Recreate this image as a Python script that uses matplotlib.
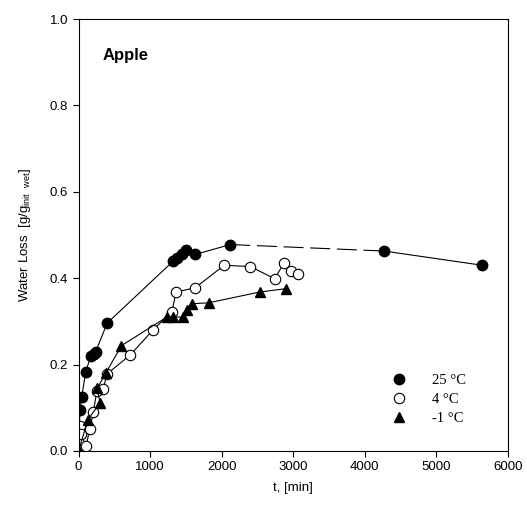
import matplotlib
matplotlib.use("Agg")
import matplotlib.pyplot as plt
import matplotlib.lines as mlines

# Data
t25 = [0, 20, 45, 100, 170, 210, 240, 400, 1325, 1380, 1440, 1500, 1630, 2120, 4265, 5640]
w25 = [0.0, 0.096, 0.125, 0.183, 0.219, 0.225, 0.230, 0.296, 0.440, 0.447, 0.455, 0.466, 0.455, 0.478, 0.463, 0.430]

t4 = [0, 20, 30, 105, 160, 207, 255, 347, 395, 720, 1046, 1303, 1364, 1630, 2035, 2400, 2740, 2874, 2968, 3060]
w4 = [0.003, 0.058, 0.040, 0.012, 0.052, 0.090, 0.138, 0.143, 0.178, 0.222, 0.281, 0.322, 0.368, 0.378, 0.430, 0.427, 0.399, 0.436, 0.416, 0.409]

tm1 = [0, 130, 300, 260, 380, 600, 1233, 1325, 1466, 1513, 1592, 1816, 2529, 2902]
wm1 = [0.0, 0.072, 0.112, 0.145, 0.180, 0.244, 0.310, 0.310, 0.310, 0.326, 0.341, 0.343, 0.368, 0.376]

labels = ["25 °C", "4 °C", "-1 °C"]

###############################################################################
#Plot
###############################################################################
fig = plt.figure(figsize=(5.27, 5.16), dpi=100)
ax = fig.add_axes([0.149, 0.126, 0.815, 0.837])

ms = 7.5
lw = 0.8

#25 C - dashed gap between the last measured points
ax.plot(t25[:14], w25[:14], color="black", linewidth=lw, marker="o", markersize=ms,
        markerfacecolor="black", markeredgecolor="black")
ax.plot(t25[13:15], w25[13:15], color="black", linewidth=lw, linestyle=(0, (18, 6)))
ax.plot(t25[14:], w25[14:], color="black", linewidth=lw, marker="o", markersize=ms,
        markerfacecolor="black", markeredgecolor="black")

#4 C
ax.plot(t4, w4, color="black", linewidth=lw, marker="o", markersize=ms,
        markerfacecolor="white", markeredgecolor="black", markeredgewidth=0.8)

#-1 C
ax.plot(tm1, wm1, color="black", linewidth=lw, marker="^", markersize=ms,
        markerfacecolor="black", markeredgecolor="black")

ax.set_xlim(0, 6000)
ax.set_ylim(0, 1.0)
ax.set_xticks(range(0, 6001, 1000))
ax.set_yticks([0.0, 0.2, 0.4, 0.6, 0.8, 1.0])
ax.set_yticklabels(["0.0", "0.2", "0.4", "0.6", "0.8", "1.0"])
ax.tick_params(direction="out", length=4, width=0.8, labelsize=9.5)
for lab in ax.get_xticklabels() + ax.get_yticklabels():
    lab.set_fontfamily("Liberation Sans")
for s in ax.spines.values():
    s.set_linewidth(0.8)

ax.set_xlabel("t, [min]", fontfamily="Liberation Sans", fontsize=9.5, labelpad=6)
ax.set_ylabel(r"Water Loss  [g/g$_{\mathregular{init\ \ wet}}$]", fontfamily="Liberation Sans",
              fontsize=9.5, labelpad=12)

ax.text(0.055, 0.915, "Apple", transform=ax.transAxes, fontfamily="Liberation Sans",
        fontsize=12, fontweight="bold", va="center")

#Legend
leg25 = mlines.Line2D([], [], color="black", linestyle="none", marker="o", markersize=ms, label=labels[0])
leg4 = mlines.Line2D([], [], color="black", linestyle="none", marker="o", markersize=ms,
                     markerfacecolor="white", markeredgewidth=0.8, label=labels[1])
legm1 = mlines.Line2D([], [], color="black", linestyle="none", marker="^", markersize=ms, label=labels[2])
ax.legend(handles=[leg25, leg4, legm1], loc="upper left", bbox_to_anchor=(0.712, 0.178),
          frameon=False, prop={"family": "Liberation Serif", "size": 10.5},
          handletextpad=1.3, labelspacing=0.4, borderpad=0, borderaxespad=0)

fig.savefig("out.png", dpi=100)
